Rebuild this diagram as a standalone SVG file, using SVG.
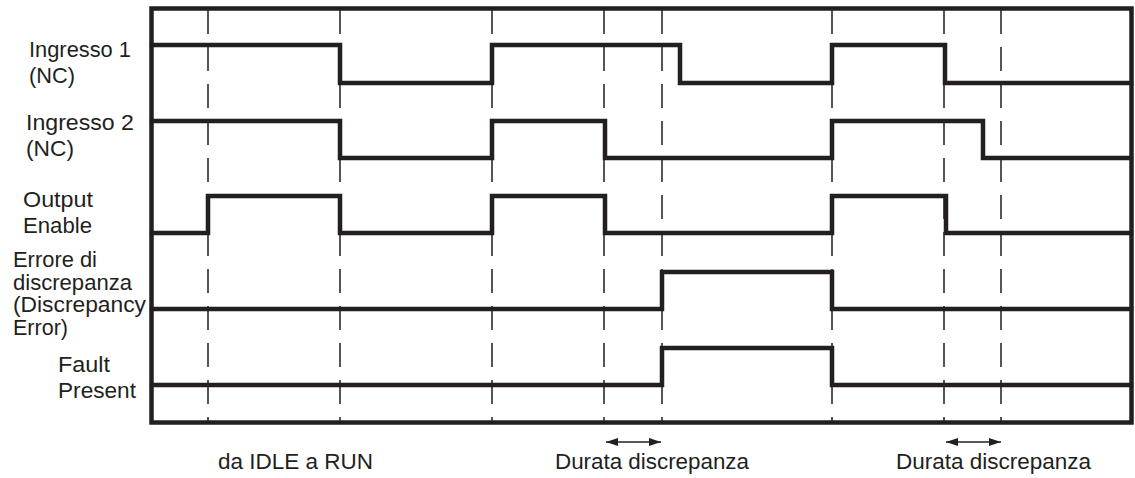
<svg xmlns="http://www.w3.org/2000/svg" width="1135" height="478" viewBox="0 0 1135 478">
<style>
.lbl{font-family:"Liberation Sans",Arial,Helvetica,sans-serif;font-size:21.5px;fill:#231f20}
.sig{fill:none;stroke:#231f20;stroke-width:4.5;stroke-linejoin:miter;stroke-linecap:square}
.grid{stroke:#555;stroke-width:2;stroke-dasharray:24 13;fill:none}
.frame{fill:none;stroke:#231f20;stroke-width:4.5}
.arr{stroke:#231f20;stroke-width:1.5;fill:none}
</style>
<defs>
<marker id="ah" viewBox="0 0 12 8" refX="12" refY="4" markerWidth="12" markerHeight="8" markerUnits="userSpaceOnUse" orient="auto-start-reverse">
<path d="M0,0 L12,4 L0,8 Z" fill="#231f20"/>
</marker>
</defs>
<rect width="1135" height="478" fill="#fff"/>
<g id="grid">
<path class="grid" d="M208,10V421M340,10V421M492,10V421M604,10V421M662,10V421M832,10V421M944,10V421M1001,10V421"/>
</g>
<g id="frame"><rect class="frame" x="151.5" y="8.5" width="980" height="414"/></g>
<g id="ingresso1">
<path class="sig" d="M152,45H340V83H492V45H680V83H832V45H945V83H1131"/>
<text class="lbl" x="29" y="57" textLength="102" lengthAdjust="spacingAndGlyphs">Ingresso 1</text>
<text class="lbl" x="29" y="83" textLength="46" lengthAdjust="spacingAndGlyphs">(NC)</text>
</g>
<g id="ingresso2">
<path class="sig" d="M152,121H340V158H492V121H605V158H832V121H983V158H1131"/>
<text class="lbl" x="26" y="130" textLength="108" lengthAdjust="spacingAndGlyphs">Ingresso 2</text>
<text class="lbl" x="26" y="156" textLength="48" lengthAdjust="spacingAndGlyphs">(NC)</text>
</g>
<g id="output-enable">
<path class="sig" d="M152,233H208V196H340V233H492V196H605V233H832V196H946V233H1131"/>
<text class="lbl" x="23" y="207" textLength="70" lengthAdjust="spacingAndGlyphs">Output</text>
<text class="lbl" x="23" y="233" textLength="69" lengthAdjust="spacingAndGlyphs">Enable</text>
</g>
<g id="errore">
<path class="sig" d="M152,309H662V272H832V309H1131"/>
<text class="lbl" x="13" y="267" textLength="84" lengthAdjust="spacingAndGlyphs">Errore di</text>
<text class="lbl" x="13" y="289.5" textLength="119" lengthAdjust="spacingAndGlyphs">discrepanza</text>
<text class="lbl" x="13" y="312" textLength="133" lengthAdjust="spacingAndGlyphs">(Discrepancy</text>
<text class="lbl" x="13" y="334.5" textLength="55" lengthAdjust="spacingAndGlyphs">Error)</text>
</g>
<g id="fault">
<path class="sig" d="M152,385H662V348H832V385H1131"/>
<text class="lbl" x="58" y="372" textLength="52" lengthAdjust="spacingAndGlyphs">Fault</text>
<text class="lbl" x="58" y="398" textLength="78" lengthAdjust="spacingAndGlyphs">Present</text>
</g>
<g id="connectors">
<line class="arr" x1="606" y1="442" x2="661" y2="442" marker-start="url(#ah)" marker-end="url(#ah)"/>
<line class="arr" x1="946" y1="442" x2="1001" y2="442" marker-start="url(#ah)" marker-end="url(#ah)"/>
</g>
<g id="bottom-labels">
<text class="lbl" x="218" y="469" textLength="155" lengthAdjust="spacingAndGlyphs">da IDLE a RUN</text>
<text class="lbl" x="555" y="469" textLength="194" lengthAdjust="spacingAndGlyphs">Durata discrepanza</text>
<text class="lbl" x="896" y="469" textLength="195" lengthAdjust="spacingAndGlyphs">Durata discrepanza</text>
</g>
</svg>
